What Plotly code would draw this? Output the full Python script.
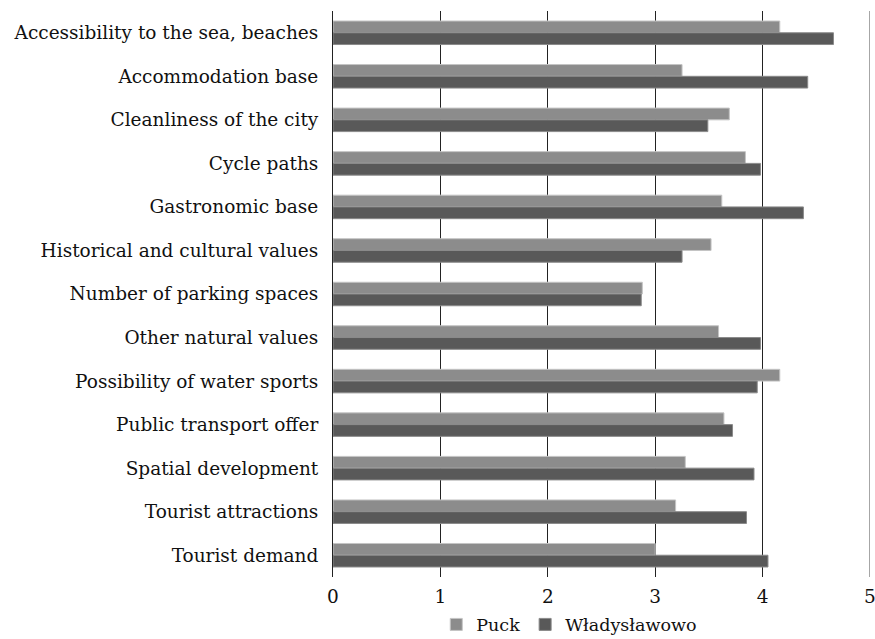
import plotly.graph_objects as go

categories = [
    "Accessibility to the sea, beaches",
    "Accommodation base",
    "Cleanliness of the city",
    "Cycle paths",
    "Gastronomic base",
    "Historical and cultural values",
    "Number of parking spaces",
    "Other natural values",
    "Possibility of water sports",
    "Public transport offer",
    "Spatial development",
    "Tourist attractions",
    "Tourist demand",
]
puck = [4.16, 3.25, 3.69, 3.84, 3.62, 3.52, 2.88, 3.59, 4.16, 3.64, 3.28, 3.19, 3.00]
wladyslawowo = [4.66, 4.42, 3.49, 3.98, 4.38, 3.25, 2.87, 3.98, 3.95, 3.72, 3.92, 3.85, 4.05]
x_ticks = [0, 1, 2, 3, 4, 5]

FONT = "DejaVu Serif"

fig = go.Figure()
fig.add_trace(go.Bar(
    y=categories, x=puck, name="Puck", orientation="h",
    marker=dict(color="#8c8c8c", line=dict(color="#c4c4c4", width=1)),
))
fig.add_trace(go.Bar(
    y=categories, x=wladyslawowo, name="Władysławowo", orientation="h",
    marker=dict(color="#595959", line=dict(color="#8a8a8a", width=1)),
))

# light frame line on the right edge of the value axis
fig.add_vline(x=x_ticks[-1], line_color="#888", line_width=1.5)

fig.update_layout(
    width=875, height=639,
    margin=dict(l=333, r=5, t=11, b=62, autoexpand=False),
    paper_bgcolor="white", plot_bgcolor="white",
    barmode="group", bargap=0.46, bargroupgap=0,
    font=dict(family=FONT, size=18.5, color="#111"),
    showlegend=True,
    legend=dict(orientation="h", x=0.44, xanchor="center",
                y=-0.084, yanchor="middle",
                bgcolor="rgba(0,0,0,0)",
                font=dict(family=FONT, size=17.5), traceorder="normal",
                itemwidth=30),
    xaxis=dict(range=[0, 5], tickvals=x_ticks, showgrid=True, gridcolor="#222",
               gridwidth=1, zeroline=False, showline=False, automargin=False,
               ticks="", ticklabelstandoff=6, ticklabeloverflow="allow",
               tickfont=dict(family=FONT, size=18.5)),
    yaxis=dict(autorange="reversed", showline=True, linecolor="#222", linewidth=1,
               ticks="", ticklabelstandoff=10, showgrid=False,
               automargin=False, tickfont=dict(family=FONT, size=18.5)),
)

fig.write_html("out.html")
